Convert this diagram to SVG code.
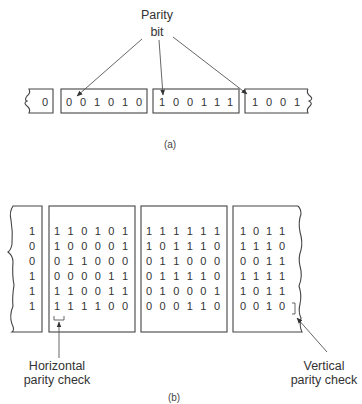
<svg xmlns="http://www.w3.org/2000/svg" width="362" height="404" viewBox="0 0 362 404">
<style>
.bx{fill:none;stroke:#444;stroke-width:1.1}
.ln{fill:none;stroke:#555;stroke-width:0.9}
.d{font-family:"Liberation Sans",Arial,sans-serif;font-size:11px;fill:#333;text-anchor:middle}
.t{font-family:"Liberation Sans",Arial,sans-serif;font-size:12.5px;fill:#333;text-anchor:middle}
.c{font-family:"Liberation Sans",Arial,sans-serif;font-size:10px;fill:#444;text-anchor:middle}
</style>
<defs>
<marker id="ah" viewBox="0 0 10 10" refX="9" refY="5" markerWidth="6" markerHeight="6" orient="auto" markerUnits="userSpaceOnUse">
<path d="M0,1 L10,5 L0,9 z" fill="#333"/>
</marker>
</defs>

<g id="label-parity">
<text class="t" x="157" y="19">Parity</text>
<text class="t" x="157" y="36">bit</text>
</g>

<g id="a-box1">
<path class="bx" d="M53,89 H29 Q31,93 27,96 Q24,100 27,101 Q23,103 27,106 Q31,109 29,113 H53 Z"/>
<text class="d" x="45" y="105.5">0</text>
</g>
<g id="a-box2">
<rect class="bx" x="61" y="89" width="86" height="24"/>
<text class="d" y="105.5"><tspan x="69">0</tspan><tspan x="83">0</tspan><tspan x="97">1</tspan><tspan x="111">0</tspan><tspan x="125">1</tspan><tspan x="139">0</tspan></text>
</g>
<g id="a-box3">
<rect class="bx" x="153" y="89" width="86" height="24"/>
<text class="d" y="105.5"><tspan x="162">1</tspan><tspan x="176">0</tspan><tspan x="190">0</tspan><tspan x="204">1</tspan><tspan x="217">1</tspan><tspan x="230">1</tspan></text>
</g>
<g id="a-box4">
<path class="bx" d="M308,89 H245 V113 H308 Q306,109 310,106 Q313,103 309,101 Q314,99 310,96 Q306,93 308,89"/>
<text class="d" y="105.5"><tspan x="255">1</tspan><tspan x="269">0</tspan><tspan x="283">0</tspan><tspan x="297">1</tspan></text>
</g>
<text class="c" x="170" y="148">(a)</text>

<g id="b-box1">
<path class="bx" d="M42,206 H13 Q9,212 11,220 Q13,232 12,244 Q11,250 8,252 Q13,256 13,262 Q12,275 14,285 Q12,298 13,306 Q9,316 12,324 Q15,330 12,332 H42 Z"/>
<text class="d" x="32"><tspan y="235">1</tspan><tspan x="32" y="250">0</tspan><tspan x="32" y="265">0</tspan><tspan x="32" y="280">1</tspan><tspan x="32" y="295">1</tspan><tspan x="32" y="310">1</tspan></text>
</g>
<g id="b-box2">
<rect class="bx" x="49" y="206" width="86" height="126"/>
<text class="d" y="235"><tspan x="57">1</tspan><tspan x="70.6">1</tspan><tspan x="84.2">0</tspan><tspan x="97.8">1</tspan><tspan x="111.4">0</tspan><tspan x="125">1</tspan></text>
<text class="d" y="250"><tspan x="57">1</tspan><tspan x="70.6">0</tspan><tspan x="84.2">0</tspan><tspan x="97.8">0</tspan><tspan x="111.4">0</tspan><tspan x="125">1</tspan></text>
<text class="d" y="265"><tspan x="57">0</tspan><tspan x="70.6">1</tspan><tspan x="84.2">1</tspan><tspan x="97.8">0</tspan><tspan x="111.4">0</tspan><tspan x="125">0</tspan></text>
<text class="d" y="280"><tspan x="57">0</tspan><tspan x="70.6">0</tspan><tspan x="84.2">0</tspan><tspan x="97.8">0</tspan><tspan x="111.4">1</tspan><tspan x="125">1</tspan></text>
<text class="d" y="295"><tspan x="57">1</tspan><tspan x="70.6">1</tspan><tspan x="84.2">0</tspan><tspan x="97.8">0</tspan><tspan x="111.4">1</tspan><tspan x="125">1</tspan></text>
<text class="d" y="310"><tspan x="57">1</tspan><tspan x="70.6">1</tspan><tspan x="84.2">1</tspan><tspan x="97.8">1</tspan><tspan x="111.4">0</tspan><tspan x="125">0</tspan></text>
</g>
<g id="b-box3">
<rect class="bx" x="141" y="206" width="86" height="126"/>
<text class="d" y="235"><tspan x="149">1</tspan><tspan x="162.6">1</tspan><tspan x="176.2">1</tspan><tspan x="189.8">1</tspan><tspan x="203.4">1</tspan><tspan x="217">1</tspan></text>
<text class="d" y="250"><tspan x="149">1</tspan><tspan x="162.6">0</tspan><tspan x="176.2">1</tspan><tspan x="189.8">1</tspan><tspan x="203.4">1</tspan><tspan x="217">0</tspan></text>
<text class="d" y="265"><tspan x="149">0</tspan><tspan x="162.6">1</tspan><tspan x="176.2">1</tspan><tspan x="189.8">0</tspan><tspan x="203.4">0</tspan><tspan x="217">0</tspan></text>
<text class="d" y="280"><tspan x="149">0</tspan><tspan x="162.6">1</tspan><tspan x="176.2">1</tspan><tspan x="189.8">1</tspan><tspan x="203.4">1</tspan><tspan x="217">0</tspan></text>
<text class="d" y="295"><tspan x="149">0</tspan><tspan x="162.6">1</tspan><tspan x="176.2">0</tspan><tspan x="189.8">0</tspan><tspan x="203.4">0</tspan><tspan x="217">1</tspan></text>
<text class="d" y="310"><tspan x="149">0</tspan><tspan x="162.6">0</tspan><tspan x="176.2">0</tspan><tspan x="189.8">1</tspan><tspan x="203.4">1</tspan><tspan x="217">0</tspan></text>
</g>
<g id="b-box4">
<path class="bx" d="M298,206 H233 V332 H302 Q299,326 301,318 Q298,312 300,304 Q302,295 299,286 Q303,276 300,266 Q298,258 301,250 Q303,242 300,232 Q298,222 301,214 Q301,209 298,206"/>
<text class="d" y="235"><tspan x="243">1</tspan><tspan x="256">0</tspan><tspan x="269">1</tspan><tspan x="282">1</tspan></text>
<text class="d" y="250"><tspan x="243">1</tspan><tspan x="256">1</tspan><tspan x="269">1</tspan><tspan x="282">0</tspan></text>
<text class="d" y="265"><tspan x="243">0</tspan><tspan x="256">0</tspan><tspan x="269">1</tspan><tspan x="282">1</tspan></text>
<text class="d" y="280"><tspan x="243">1</tspan><tspan x="256">1</tspan><tspan x="269">1</tspan><tspan x="282">1</tspan></text>
<text class="d" y="295"><tspan x="243">1</tspan><tspan x="256">0</tspan><tspan x="269">1</tspan><tspan x="282">1</tspan></text>
<text class="d" y="310"><tspan x="243">0</tspan><tspan x="256">0</tspan><tspan x="269">1</tspan><tspan x="282">0</tspan></text>
</g>

<g id="label-horizontal">
<text class="t" x="57" y="370">Horizontal</text>
<text class="t" x="57" y="384">parity check</text>
</g>
<g id="label-vertical">
<text class="t" x="324" y="370">Vertical</text>
<text class="t" x="324" y="384">parity check</text>
</g>
<text class="c" x="174" y="401">(b)</text>

<g id="connectors">
<line class="ln" x1="142" y1="39" x2="77" y2="96" marker-end="url(#ah)"/>
<line class="ln" x1="159" y1="40" x2="163" y2="95" marker-end="url(#ah)"/>
<line class="ln" x1="173" y1="37" x2="247" y2="94" marker-end="url(#ah)"/>
<path class="ln" d="M54,316 V320 H64 V316"/>
<line class="ln" x1="59" y1="358" x2="59" y2="322" marker-end="url(#ah)"/>
<path class="ln" d="M292,303 H295 V314 H292"/>
<line class="ln" x1="327" y1="352" x2="297" y2="318" marker-end="url(#ah)"/>
</g>
</svg>
